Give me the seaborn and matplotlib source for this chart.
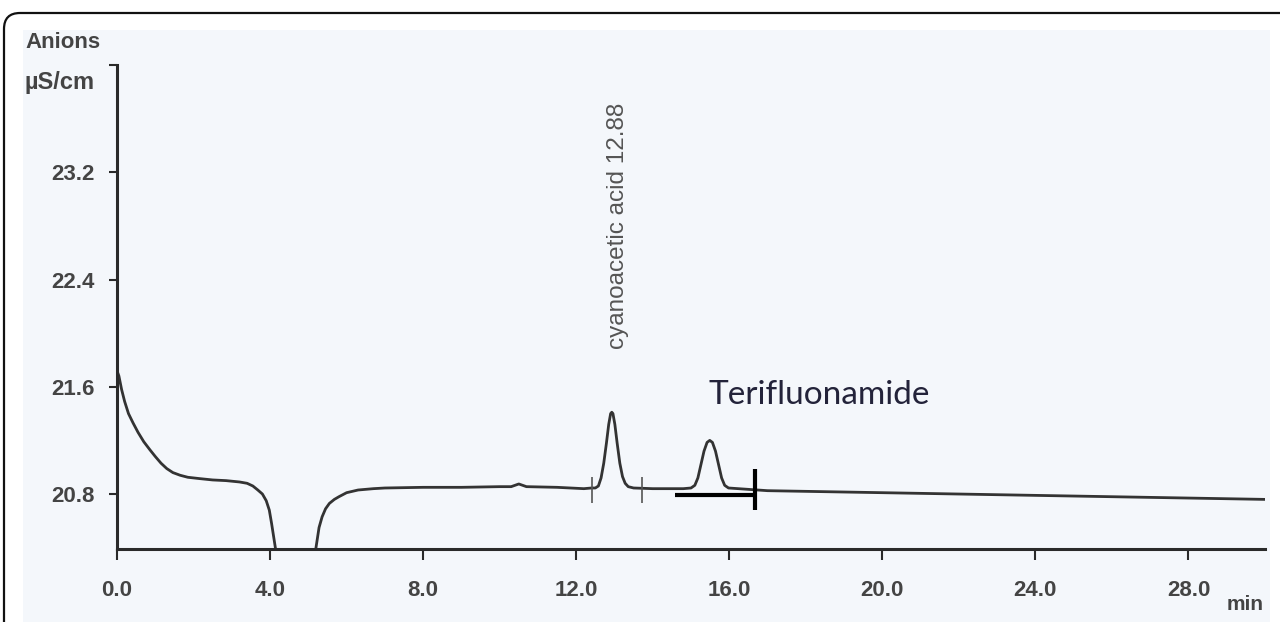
import matplotlib
matplotlib.use("Agg")
import matplotlib.pyplot as plt
import seaborn as sns
import pandas as pd
from matplotlib.patches import Rectangle, FancyBboxPatch
from matplotlib.transforms import IdentityTransform

# ---------------- data ----------------
time_min = [0.00, 0.05, 0.12, 0.20, 0.30, 0.42, 0.55, 0.70, 0.86, 1.00, 1.15, 1.30,
            1.46, 1.65, 1.85, 2.16, 2.50, 2.85, 3.20, 3.40, 3.55, 3.68, 3.80, 3.90,
            3.98, 4.04, 4.10, 4.16, 4.20,
            5.15, 5.20, 5.28, 5.36, 5.45, 5.55, 5.68, 5.80, 6.00, 6.30, 6.70, 7.00,
            8.00, 9.00, 10.00, 10.30, 10.50, 10.70, 11.50, 12.20, 12.40,
            12.50, 12.58, 12.65, 12.72, 12.79, 12.85, 12.90, 12.93, 12.96, 13.01,
            13.07, 13.14, 13.21, 13.28, 13.36, 13.50, 14.00, 14.80,
            15.00, 15.10, 15.18, 15.26, 15.34, 15.42, 15.49, 15.56, 15.64, 15.72,
            15.80, 15.88, 15.98, 17.00, 20.00, 24.00, 28.00, 30.00]
signal_uS = [21.72, 21.68, 21.58, 21.49, 21.40, 21.33, 21.26, 21.19, 21.13, 21.08, 21.03, 20.99,
             20.96, 20.94, 20.925, 20.915, 20.905, 20.90, 20.89, 20.88, 20.86, 20.83, 20.80, 20.75,
             20.68, 20.58, 20.47, 20.36, 20.30,
             20.30, 20.40, 20.55, 20.63, 20.69, 20.73, 20.76, 20.78, 20.81, 20.83, 20.84, 20.845,
             20.85, 20.85, 20.855, 20.855, 20.875, 20.855, 20.85, 20.84, 20.845,
             20.845, 20.86, 20.92, 21.03, 21.18, 21.32, 21.40, 21.41, 21.40, 21.32,
             21.18, 21.03, 20.93, 20.88, 20.855, 20.845, 20.84, 20.84,
             20.845, 20.865, 20.92, 21.02, 21.12, 21.185, 21.20, 21.185, 21.12, 21.02,
             20.92, 20.865, 20.845, 20.825, 20.81, 20.79, 20.77, 20.76]

x_ticks = [0.0, 4.0, 8.0, 12.0, 16.0, 20.0, 24.0, 28.0]
x_tick_labels = ["0.0", "4.0", "8.0", "12.0", "16.0", "20.0", "24.0", "28.0"]
y_ticks = [20.8, 21.6, 22.4, 23.2, 24.0]
y_tick_labels = ["20.8", "21.6", "22.4", "23.2", ""]

peak1_label = "cyanoacetic acid 12.88"
peak1_time = 13.1
peak1_marks = [12.40, 13.73]          # integration start / end marks
peak1_mark_range = [20.73, 20.93]

peak2_label = "Terifluonamide"
peak2_bar_x = [14.57, 16.66]          # drawn baseline under second peak
peak2_bar_y = 20.79
peak2_end_range = [20.68, 20.99]

# ---------------- figure ----------------
W, H = 1280, 622
sns.set_theme(style="white")
plt.rcParams["font.family"] = ["Liberation Sans", "DejaVu Sans"]

TXT = "#444444"
fig = plt.figure(figsize=(W / 100, H / 100), dpi=100, facecolor="white")

# scanned-paper background and rounded frame
fig.patches.append(Rectangle((23 / W, 0), (1270 - 23) / W, 1 - 30 / H,
                             transform=fig.transFigure, facecolor="#f4f7fb",
                             edgecolor="none", zorder=-10))
fig.patches.append(FancyBboxPatch((4, -60), 1320, H - 13 + 60,
                                  boxstyle="round,pad=0,rounding_size=16",
                                  transform=IdentityTransform(), facecolor="none",
                                  edgecolor="#111111", linewidth=1.6, zorder=-9))

ax = fig.add_axes([117 / W, 1 - 549 / H, (1265 - 117) / W, (549 - 65) / H])
ax.set_zorder(5)
ax.set_facecolor("none")
ax.patch.set_alpha(0)

df = pd.DataFrame({"time": time_min, "signal": signal_uS})
sns.lineplot(data=df, x="time", y="signal", sort=False, estimator=None,
             color="#333333", linewidth=2.0, ax=ax)
for ln in ax.lines:
    ln.set_solid_joinstyle("round")

ax.set_xlim(0, 30)
ax.set_ylim(20.39, 24.0)

for s in ["top", "right"]:
    ax.spines[s].set_visible(False)
for s in ["left", "bottom"]:
    ax.spines[s].set_color("#2a2a2a")
    ax.spines[s].set_linewidth(2.2)

ax.set_xticks(x_ticks)
ax.set_xticklabels(x_tick_labels)
ax.set_yticks(y_ticks)
ax.set_yticklabels(y_tick_labels)
ax.tick_params(axis="x", direction="out", length=8, width=1.5, color="#2a2a2a",
               pad=14, labelsize=16, labelcolor=TXT, bottom=True)
ax.tick_params(axis="y", direction="out", length=6, width=1.5, color="#2a2a2a",
               pad=10, labelsize=16, labelcolor=TXT, left=True)
for lab in ax.get_xticklabels() + ax.get_yticklabels():
    lab.set_fontweight("bold")
ax.set_xlabel("")
ax.set_ylabel("")
ax.grid(False)

# integration marks for first peak
ax.vlines(peak1_marks, peak1_mark_range[0], peak1_mark_range[1],
          color="#555555", linewidth=1.2)
# peak labels
ax.text(peak1_time, 22.80, peak1_label, rotation=90, ha="center", va="center",
        fontsize=17.5, color="#555555")
ax.text(18.35, 21.54, peak2_label, ha="center", va="center", fontsize=24,
        color="#23233a", family=["Lato", "DejaVu Sans"])
# drawn baseline for second peak
ax.plot(peak2_bar_x, [peak2_bar_y, peak2_bar_y], color="black", linewidth=3.0,
        solid_capstyle="butt")
ax.vlines([peak2_bar_x[1]], peak2_end_range[0], peak2_end_range[1],
          color="black", linewidth=3.0)

# unit labels
fig.text(25 / W, 1 - 42 / H, "Anions", ha="left", va="center", fontsize=16,
         fontweight="bold", color=TXT)
fig.text(25 / W, 1 - 83 / H, "µS/cm", ha="left", va="center", fontsize=17,
         fontweight="bold", color=TXT)
fig.text(1245 / W, 1 - 604 / H, "min", ha="center", va="center", fontsize=15,
         fontweight="bold", color=TXT)

fig.savefig("out.png", dpi=100, facecolor="white")
